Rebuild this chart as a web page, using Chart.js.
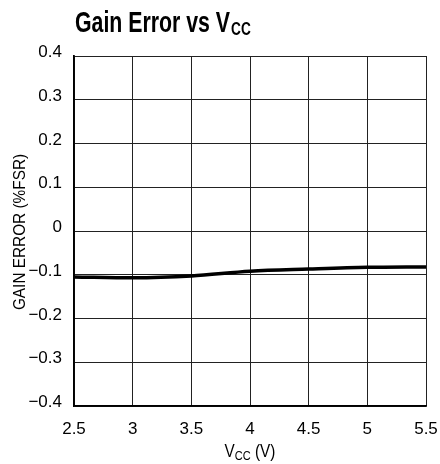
<!DOCTYPE html>
<html>
<head>
<meta charset="utf-8">
<script src="https://cdn.jsdelivr.net/npm/chart.js@4.4.1/dist/chart.umd.min.js"></script>
<style>
  html, body { margin: 0; padding: 0; background: #fff; }
  #chart { display: block; }
</style>
</head>
<body>
<canvas id="chart" width="440" height="464"></canvas>
<script>
/* --------------- Data --------------------- */
const vcc = [2.5, 3.0, 3.5, 4.0, 4.5, 5.0, 5.5];
const gainError = [-0.105, -0.107, -0.103, -0.092, -0.087, -0.083, -0.082];
const xTicks = [2.5, 3, 3.5, 4, 4.5, 5, 5.5];
const yTicks = [-0.4, -0.3, -0.2, -0.1, 0, 0.1, 0.2, 0.3, 0.4];

const FONT = "'Liberation Sans', Arial, sans-serif";

const fmtY = (v) => {
  if (Math.abs(v) < 1e-9) return "0";
  const s = Math.abs(v).toFixed(1);
  return v < 0 ? "\u2212" + s : s;
};

/* --------------- Text helper: horizontally squeezed text (condensed look) --------------------- */
const squeezed = (ctx, str, x, y, font, sx, align) => {
  ctx.font = font;
  const w = ctx.measureText(str).width * sx;
  let left = x;
  if (align === "center") left = x - w / 2;
  else if (align === "right") left = x - w;
  ctx.save();
  ctx.translate(left, y);
  ctx.scale(sx, 1);
  ctx.textAlign = "left";
  ctx.fillText(str, 0, 0);
  ctx.restore();
  return w;
};

const textPlugin = {
  id: "texts",
  afterDraw(chart) {
    const { ctx, chartArea, scales } = chart;
    ctx.save();
    ctx.fillStyle = "#000";
    ctx.textBaseline = "alphabetic";

    // title: Gain Error vs V_CC
    let x = 75;
    x += squeezed(ctx, "Gain Error vs V", x, 32, `bold 30px ${FONT}`, 0.71, "left");
    squeezed(ctx, "CC", x + 1, 35, `bold 19px ${FONT}`, 0.72, "left");

    // tick labels
    const tickFont = `17px ${FONT}`;
    yTicks.forEach((v) => {
      squeezed(ctx, fmtY(v), 62, scales.y.getPixelForValue(v) + 1, tickFont, 1, "right");
    });
    xTicks.forEach((v) => {
      squeezed(ctx, String(v), scales.x.getPixelForValue(v), 434, tickFont, 1, "center");
    });

    // x axis title: V_CC (V)
    ctx.font = `18px ${FONT}`;
    const w1 = ctx.measureText("V").width * 0.85;
    const w3 = ctx.measureText(" (V)").width * 0.85;
    ctx.font = `13px ${FONT}`;
    const w2 = ctx.measureText("CC").width * 0.85;
    const cx = (chartArea.left + chartArea.right) / 2;
    let tx = cx - (w1 + w2 + w3) / 2;
    tx += squeezed(ctx, "V", tx, 457, `18px ${FONT}`, 0.85, "left");
    tx += squeezed(ctx, "CC", tx, 460, `13px ${FONT}`, 0.85, "left");
    squeezed(ctx, " (V)", tx, 457, `18px ${FONT}`, 0.85, "left");

    // y axis title
    ctx.translate(25, 232);
    ctx.rotate(-Math.PI / 2);
    squeezed(ctx, "GAIN ERROR (%FSR)", 0, 0, `16px ${FONT}`, 0.96, "center");
    ctx.restore();
  },
};

/* --------------- Chart --------------------- */
new Chart(document.getElementById("chart"), {
  type: "line",
  plugins: [textPlugin],
  data: {
    datasets: [{
      data: vcc.map((x, i) => ({ x, y: gainError[i] })),
      borderColor: "#000",
      borderWidth: 3.5,
      pointRadius: 0,
      cubicInterpolationMode: "monotone",
      fill: false,
    }],
  },
  options: {
    responsive: false,
    animation: false,
    layout: { padding: { top: 56, right: 14, left: 0, bottom: 0 } },
    plugins: { legend: { display: false }, tooltip: { enabled: false } },
    scales: {
      x: {
        type: "linear",
        min: 2.5,
        max: 5.5,
        afterFit: (s) => { s.height = 58; },
        afterBuildTicks: (s) => { s.ticks = xTicks.map((v) => ({ value: v })); },
        ticks: { color: "rgba(0,0,0,0)", font: { family: FONT, size: 15 } },
        grid: { color: "#222", lineWidth: 1, drawTicks: false },
        border: { color: "#000", width: 1.8 },
      },
      y: {
        min: -0.4,
        max: 0.4,
        afterFit: (s) => { s.width = 74; },
        afterBuildTicks: (s) => { s.ticks = yTicks.map((v) => ({ value: v })); },
        ticks: { color: "rgba(0,0,0,0)", font: { family: FONT, size: 15 } },
        grid: { color: "#222", lineWidth: 1, drawTicks: false },
        border: { color: "#000", width: 1.8 },
      },
    },
  },
});
</script>
</body>
</html>
